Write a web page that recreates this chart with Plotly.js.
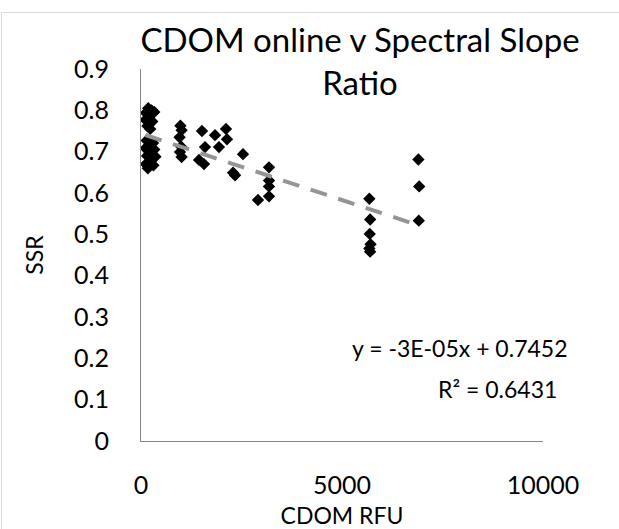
<!DOCTYPE html>
<html><head><meta charset="utf-8">
<script src="https://cdn.plot.ly/plotly-3.0.1.min.js"></script>
<style>html,body{margin:0;padding:0;background:#fff}#chart{width:619px;height:529px}</style>
</head><body><div id="chart"></div>
<script>
// ---- data ----
const cdomRfu = [
  180, 260, 120, 330, 200, 110, 280, 160, 230, 140, 300, 190, 110, 330, 220, 150, 360, 240, 120, 310, 170,
  980, 1010, 960, 1000, 970, 1010,
  1517, 1841, 2114, 2139, 1592, 1940, 1443, 1567, 2537, 2290, 2340,
  3184, 3184, 3184, 3184, 2910,
  5680, 5700, 5690, 5710, 5680, 5700,
  6900, 6920, 6910
];
const ssr = [
  0.805, 0.800, 0.794, 0.796, 0.786, 0.777, 0.773, 0.762, 0.755, 0.727, 0.721, 0.715, 0.708, 0.705, 0.697, 0.690, 0.688, 0.677, 0.670, 0.667, 0.660,
  0.763, 0.752, 0.735, 0.712, 0.699, 0.687,
  0.750, 0.740, 0.755, 0.730, 0.711, 0.711, 0.680, 0.670, 0.694, 0.649, 0.643,
  0.662, 0.630, 0.616, 0.592, 0.583,
  0.586, 0.536, 0.501, 0.476, 0.466, 0.458,
  0.681, 0.616, 0.533
];
const xTickVals = [0, 5000, 10000];
const yTickVals = [0, 0.1, 0.2, 0.3, 0.4, 0.5, 0.6, 0.7, 0.8, 0.9];
const chartTitle = 'CDOM online v Spectral Slope<br>Ratio';
const xTitle = 'CDOM RFU';
const yTitle = 'SSR';
const equationText = 'y = -3E-05x + 0.7452';
const r2Text = 'R² = 0.6431';

// ---- linear trendline (least squares over the points) ----
const n = cdomRfu.length;
const mx = cdomRfu.reduce((a, b) => a + b, 0) / n;
const my = ssr.reduce((a, b) => a + b, 0) / n;
let sxy = 0, sxx = 0;
for (let i = 0; i < n; i++) { sxy += (cdomRfu[i] - mx) * (ssr[i] - my); sxx += (cdomRfu[i] - mx) ** 2; }
const slope = sxy / sxx;
const intercept = my - slope * mx;
const trendX = [Math.min(...cdomRfu), Math.max(...cdomRfu)];
const trendY = trendX.map(x => intercept + slope * x);

const FONT = 'Lato, Carlito, "Liberation Sans", sans-serif';

const traces = [
  {
    x: cdomRfu, y: ssr, type: 'scatter', mode: 'markers', name: 'SSR',
    marker: { symbol: 'diamond', size: 9.5, color: '#000000', line: { width: 0 } },
    hoverinfo: 'x+y'
  },
  {
    x: trendX, y: trendY, type: 'scatter', mode: 'lines', name: 'Linear',
    line: { color: '#959595', width: 4, dash: '17px,12px' },
    hoverinfo: 'skip'
  }
];

const layout = {
  width: 619, height: 529,
  margin: { l: 141, r: 76, t: 69, b: 88 },
  paper_bgcolor: '#ffffff', plot_bgcolor: '#ffffff',
  showlegend: false,
  font: { family: FONT, color: '#000000', size: 25 },
  title: {
    text: chartTitle,
    font: { family: FONT, size: 33, color: '#000000' },
    x: 360 / 619, xref: 'container', xanchor: 'center',
    y: 1 - 52 / 529, yref: 'container', yanchor: 'top'
  },
  xaxis: {
    range: [0, 10000], tickvals: xTickVals, ticktext: xTickVals.map(String),
    showgrid: false, zeroline: false,
    showline: true, linecolor: '#868686', linewidth: 1,
    ticks: '', ticklabelstandoff: 22,
    tickfont: { family: FONT, size: 25, color: '#000000' },
    title: { text: xTitle, font: { family: FONT, size: 23, color: '#000000' }, standoff: 9 },
    fixedrange: true
  },
  yaxis: {
    range: [0, 0.9], tickvals: yTickVals, ticktext: yTickVals.map(v => String(Math.round(v * 10) / 10)),
    showgrid: false, zeroline: false,
    showline: true, linecolor: '#868686', linewidth: 1,
    ticks: '', ticklabelstandoff: 26,
    tickfont: { family: FONT, size: 25, color: '#000000' },
    title: { text: yTitle, font: { family: FONT, size: 23, color: '#000000' }, standoff: 24 },
    fixedrange: true
  },
  annotations: [
    { text: equationText, xref: 'paper', yref: 'paper', x: (570 - 141) / 402, y: (441 - 348) / 372,
      xanchor: 'right', yanchor: 'middle', showarrow: false, font: { family: FONT, size: 23, color: '#000000' } },
    { text: r2Text, xref: 'paper', yref: 'paper', x: (497 - 141) / 402, y: (441 - 389) / 372,
      xanchor: 'center', yanchor: 'middle', showarrow: false, font: { family: FONT, size: 23, color: '#000000' } }
  ],
  shapes: [
    { type: 'rect', xref: 'paper', yref: 'paper', layer: 'below',
      x0: (1.5 - 141) / 402, x1: (650 - 141) / 402, y0: (441 - 560) / 372, y1: (441 - 12.5) / 372,
      line: { color: '#D9D9D9', width: 1 }, fillcolor: 'rgba(0,0,0,0)' }
  ]
};

Plotly.newPlot('chart', traces, layout, { displayModeBar: false, staticPlot: true });
</script>
</body></html>
